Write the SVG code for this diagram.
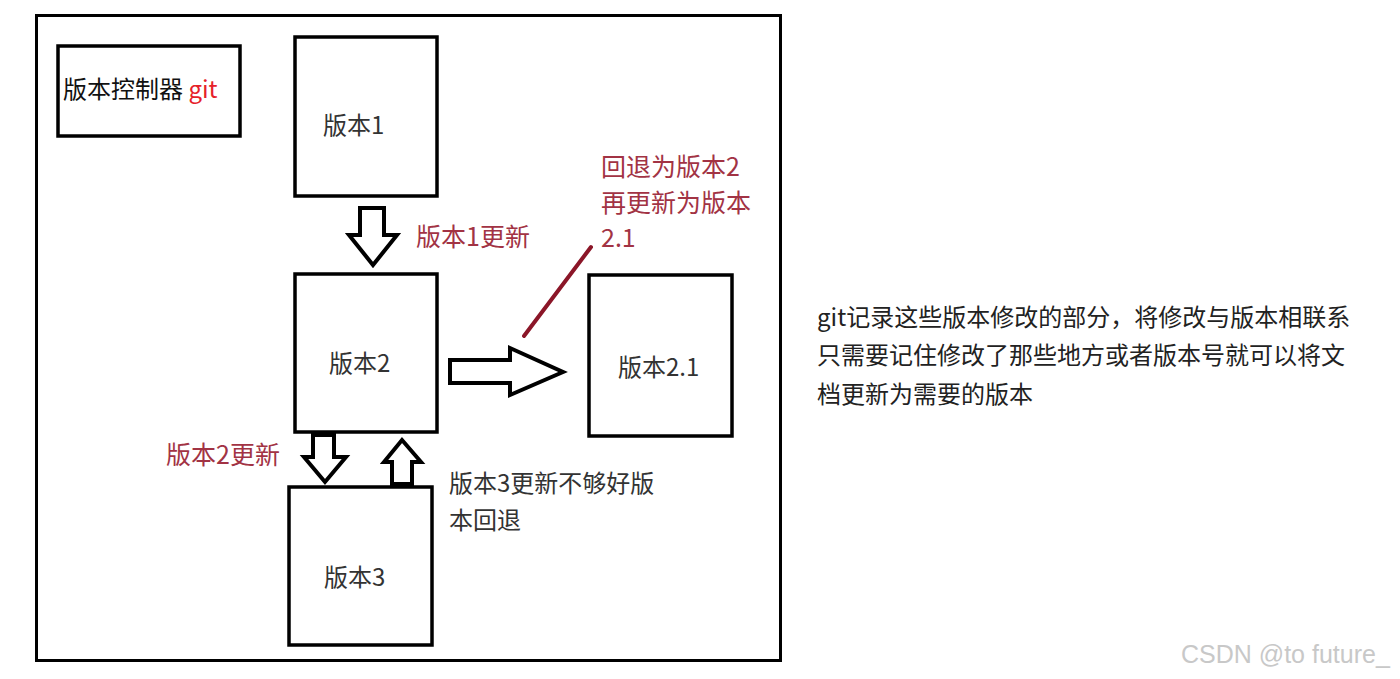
<svg xmlns="http://www.w3.org/2000/svg" width="1400" height="679" viewBox="0 0 1400 679">
<style>
.box{fill:#fff;stroke:#000;stroke-width:3.5}
.arr{fill:#fff;stroke:#000;stroke-width:4;stroke-linejoin:miter}
text{font-family:"Noto Sans CJK SC","Noto Sans",sans-serif;font-size:24px}
.lbl{fill:#333}
.note{fill:#a23344;font-size:25px}
.desc{fill:#222}
</style>
<rect x="0" y="0" width="1400" height="679" fill="#fff"/>
<rect x="36.5" y="15.5" width="744" height="645" fill="none" stroke="#000" stroke-width="3"/>
<g id="title"><rect class="box" x="58" y="46" width="182" height="90"/><text x="63" y="98" fill="#111">版本控制器 <tspan fill="#e62129">git</tspan></text></g>
<g id="v1"><rect class="box" x="295" y="37" width="142" height="159" stroke-width="4"/><text class="lbl" x="323" y="134">版本1</text></g>
<g id="v2"><rect class="box" x="295" y="274" width="142" height="158"/><text class="lbl" x="329" y="372">版本2</text></g>
<g id="v21"><rect class="box" x="589" y="275" width="143" height="161"/><text class="lbl" x="618" y="376">版本2.1</text></g>
<g id="v3"><rect class="box" x="289" y="487" width="143" height="158"/><text class="lbl" x="324" y="586">版本3</text></g>
<g id="connectors">
<polygon class="arr" points="360,208 384,208 384,235 397,235 373,265 349,235 360,235"/>
<polygon class="arr" points="450,360 510,360 510,348 563,372 510,395 510,383 450,383"/>
<polygon class="arr" points="313,435 334,435 334,457 346,457 325,482 304,457 313,457"/>
<polygon class="arr" points="402,440 421,462 412,462 412,484 392,484 392,462 384,462"/>
<line x1="524" y1="336" x2="591" y2="247" stroke="#8b1628" stroke-width="4" stroke-linecap="round"/>
</g>
<g id="notes">
<text class="note" x="416" y="246">版本1更新</text>
<text class="note" x="601" y="176">回退为版本2</text>
<text class="note" x="601" y="212">再更新为版本</text>
<text class="note" x="601" y="247">2.1</text>
<text class="note" x="166" y="464">版本2更新</text>
<text class="lbl" x="449" y="492">版本3更新不够好版</text>
<text class="lbl" x="449" y="529">本回退</text>
</g>
<g id="desc">
<text class="desc" x="817" y="326">git记录这些版本修改的部分，将修改与版本相联系</text>
<text class="desc" x="817" y="364">只需要记住修改了那些地方或者版本号就可以将文</text>
<text class="desc" x="817" y="403">档更新为需要的版本</text>
</g>
<text x="1181" y="663" style="font-family:'Liberation Sans',Arial,sans-serif;font-size:25px" fill="#c8c8c8">CSDN @to future_</text>
</svg>
